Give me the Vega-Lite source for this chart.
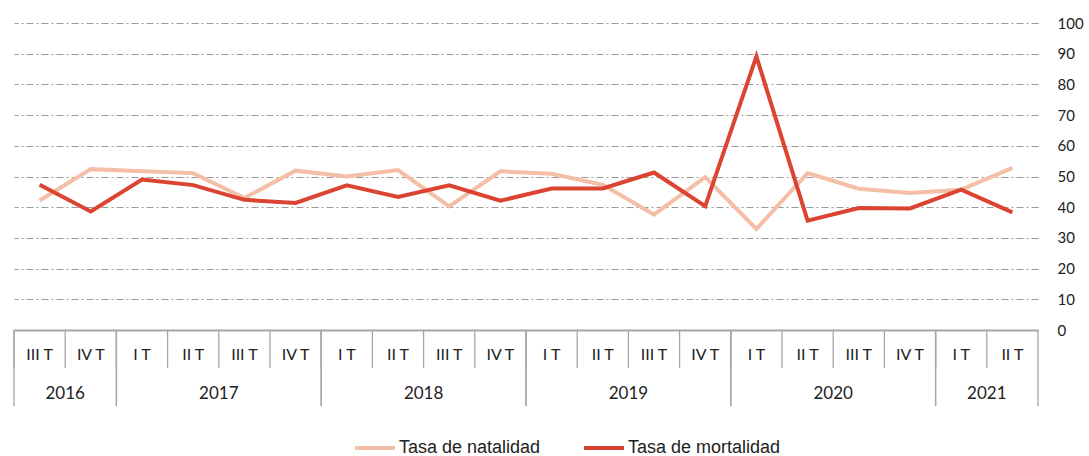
{
  "$schema": "https://vega.github.io/schema/vega-lite/v6.json",
  "padding": {"left": 13, "top": 16, "right": 0, "bottom": 0},
  "background": "white",
  "config": {"view": {"stroke": null}, "font": "Lato"},
  "bounds": "flush",
  "spacing": 0,
  "resolve": {"scale": {"x": "independent", "y": "independent"}},
  "datasets": {
    "trimestres": [
      {"k": "2016-III", "t": "III T"}, {"k": "2016-IV", "t": "IV T"},
      {"k": "2017-I", "t": "I T"}, {"k": "2017-II", "t": "II T"}, {"k": "2017-III", "t": "III T"}, {"k": "2017-IV", "t": "IV T"},
      {"k": "2018-I", "t": "I T"}, {"k": "2018-II", "t": "II T"}, {"k": "2018-III", "t": "III T"}, {"k": "2018-IV", "t": "IV T"},
      {"k": "2019-I", "t": "I T"}, {"k": "2019-II", "t": "II T"}, {"k": "2019-III", "t": "III T"}, {"k": "2019-IV", "t": "IV T"},
      {"k": "2020-I", "t": "I T"}, {"k": "2020-II", "t": "II T"}, {"k": "2020-III", "t": "III T"}, {"k": "2020-IV", "t": "IV T"},
      {"k": "2021-I", "t": "I T"}, {"k": "2021-II", "t": "II T"}
    ],
    "anios": [
      {"anio": "2016", "ini": "2016-III", "mid": "2016-IV", "fin": "2016-IV"},
      {"anio": "2017", "ini": "2017-I", "mid": "2017-III", "fin": "2017-IV"},
      {"anio": "2018", "ini": "2018-I", "mid": "2018-III", "fin": "2018-IV"},
      {"anio": "2019", "ini": "2019-I", "mid": "2019-III", "fin": "2019-IV"},
      {"anio": "2020", "ini": "2020-I", "mid": "2020-III", "fin": "2020-IV"},
      {"anio": "2021", "ini": "2021-I", "mid": "2021-II", "fin": "2021-II"}
    ],
    "puntos": [
      {"k": "2016-III", "serie": "Tasa de natalidad", "valor": 42.2},
      {"k": "2016-IV", "serie": "Tasa de natalidad", "valor": 52.4},
      {"k": "2017-I", "serie": "Tasa de natalidad", "valor": 51.7},
      {"k": "2017-II", "serie": "Tasa de natalidad", "valor": 51.1},
      {"k": "2017-III", "serie": "Tasa de natalidad", "valor": 43.0},
      {"k": "2017-IV", "serie": "Tasa de natalidad", "valor": 51.9},
      {"k": "2018-I", "serie": "Tasa de natalidad", "valor": 50.0},
      {"k": "2018-II", "serie": "Tasa de natalidad", "valor": 52.1},
      {"k": "2018-III", "serie": "Tasa de natalidad", "valor": 40.3},
      {"k": "2018-IV", "serie": "Tasa de natalidad", "valor": 51.7},
      {"k": "2019-I", "serie": "Tasa de natalidad", "valor": 50.9},
      {"k": "2019-II", "serie": "Tasa de natalidad", "valor": 47.3},
      {"k": "2019-III", "serie": "Tasa de natalidad", "valor": 37.6},
      {"k": "2019-IV", "serie": "Tasa de natalidad", "valor": 49.8},
      {"k": "2020-I", "serie": "Tasa de natalidad", "valor": 32.9},
      {"k": "2020-II", "serie": "Tasa de natalidad", "valor": 51.1},
      {"k": "2020-III", "serie": "Tasa de natalidad", "valor": 46.0},
      {"k": "2020-IV", "serie": "Tasa de natalidad", "valor": 44.6},
      {"k": "2021-I", "serie": "Tasa de natalidad", "valor": 45.7},
      {"k": "2021-II", "serie": "Tasa de natalidad", "valor": 52.8},
      {"k": "2016-III", "serie": "Tasa de mortalidad", "valor": 47.3},
      {"k": "2016-IV", "serie": "Tasa de mortalidad", "valor": 38.6},
      {"k": "2017-I", "serie": "Tasa de mortalidad", "valor": 49.0},
      {"k": "2017-II", "serie": "Tasa de mortalidad", "valor": 47.2},
      {"k": "2017-III", "serie": "Tasa de mortalidad", "valor": 42.4},
      {"k": "2017-IV", "serie": "Tasa de mortalidad", "valor": 41.4},
      {"k": "2018-I", "serie": "Tasa de mortalidad", "valor": 47.1},
      {"k": "2018-II", "serie": "Tasa de mortalidad", "valor": 43.3},
      {"k": "2018-III", "serie": "Tasa de mortalidad", "valor": 47.1},
      {"k": "2018-IV", "serie": "Tasa de mortalidad", "valor": 42.1},
      {"k": "2019-I", "serie": "Tasa de mortalidad", "valor": 46.1},
      {"k": "2019-II", "serie": "Tasa de mortalidad", "valor": 46.1},
      {"k": "2019-III", "serie": "Tasa de mortalidad", "valor": 51.3},
      {"k": "2019-IV", "serie": "Tasa de mortalidad", "valor": 40.3},
      {"k": "2020-I", "serie": "Tasa de mortalidad", "valor": 89.1},
      {"k": "2020-II", "serie": "Tasa de mortalidad", "valor": 35.6},
      {"k": "2020-III", "serie": "Tasa de mortalidad", "valor": 39.7},
      {"k": "2020-IV", "serie": "Tasa de mortalidad", "valor": 39.6},
      {"k": "2021-I", "serie": "Tasa de mortalidad", "valor": 45.7},
      {"k": "2021-II", "serie": "Tasa de mortalidad", "valor": 38.3}
    ]
  },
  "vconcat": [
    {
      "width": 1024,
      "height": 307,
      "data": {"name": "puntos"},
      "mark": {"type": "line", "strokeWidth": 4},
      "encoding": {
        "x": {
          "field": "k", "type": "nominal",
          "scale": {"domain": ["2016-III","2016-IV","2017-I","2017-II","2017-III","2017-IV","2018-I","2018-II","2018-III","2018-IV","2019-I","2019-II","2019-III","2019-IV","2020-I","2020-II","2020-III","2020-IV","2021-I","2021-II"]},
          "axis": {"title": null, "labels": false, "ticks": false, "grid": false, "domainColor": "#a6a6a6", "domainWidth": 2}
        },
        "y": {
          "field": "valor", "type": "quantitative",
          "scale": {"domain": [0, 100], "nice": false},
          "axis": {"orient": "right", "title": null, "values": [0,10,20,30,40,50,60,70,80,90,100], "domain": false, "ticks": false, "labelPadding": 19, "labelFont": "Lato", "labelFontSize": 15, "labelColor": "#222", "gridDash": [7,3,2,3], "gridColor": "#999999", "gridWidth": 1.2}
        },
        "color": {
          "field": "serie", "type": "nominal",
          "scale": {"domain": ["Tasa de natalidad", "Tasa de mortalidad"], "range": ["#F4BEA7", "#DC4432"]},
          "legend": {"title": null, "orient": "none", "legendX": 339, "legendY": 403, "direction": "horizontal", "symbolType": "stroke", "symbolSize": 1600, "symbolStrokeWidth": 4, "labelFont": "Liberation Sans", "labelFontSize": 18, "labelColor": "#222", "labelOffset": 2, "columnPadding": 35}
        }
      }
    },
    {
      "width": 1024,
      "height": 76,
      "layer": [
        {
          "data": {"name": "trimestres"},
          "mark": {"type": "rule", "color": "#a6a6a6", "strokeWidth": 1.3},
          "encoding": {
            "x": {"field": "k", "type": "nominal", "bandPosition": 0, "axis": null,
                  "scale": {"type": "band", "paddingInner": 0, "paddingOuter": 0, "domain": ["2016-III","2016-IV","2017-I","2017-II","2017-III","2017-IV","2018-I","2018-II","2018-III","2018-IV","2019-I","2019-II","2019-III","2019-IV","2020-I","2020-II","2020-III","2020-IV","2021-I","2021-II"]}},
            "y": {"datum": 0, "type": "quantitative", "axis": null, "scale": {"domain": [0, 2], "reverse": true, "nice": false}},
            "y2": {"datum": 1}
          }
        },
        {
          "data": {"name": "anios"},
          "mark": {"type": "rule", "color": "#a6a6a6", "strokeWidth": 1.3},
          "encoding": {
            "x": {"field": "ini", "type": "nominal", "bandPosition": 0},
            "y": {"datum": 0, "type": "quantitative"},
            "y2": {"datum": 2}
          }
        },
        {
          "data": {"name": "anios"},
          "mark": {"type": "rule", "color": "#a6a6a6", "strokeWidth": 1.3},
          "encoding": {
            "x": {"field": "fin", "type": "nominal", "bandPosition": 1},
            "y": {"datum": 0, "type": "quantitative"},
            "y2": {"datum": 2}
          }
        },
        {
          "data": {"name": "trimestres"},
          "mark": {"type": "text", "font": "Lato", "fontSize": 16, "color": "#222", "dy": 6},
          "encoding": {
            "x": {"field": "k", "type": "nominal", "bandPosition": 0.5},
            "y": {"datum": 0.5, "type": "quantitative"},
            "text": {"field": "t"}
          }
        },
        {
          "data": {"name": "anios"},
          "mark": {"type": "text", "font": "Lato", "fontSize": 17, "color": "#222", "dy": 7},
          "encoding": {
            "x": {"field": "mid", "type": "nominal", "bandPosition": 0},
            "y": {"datum": 1.5, "type": "quantitative"},
            "text": {"field": "anio"}
          }
        }
      ]
    }
  ]
}
